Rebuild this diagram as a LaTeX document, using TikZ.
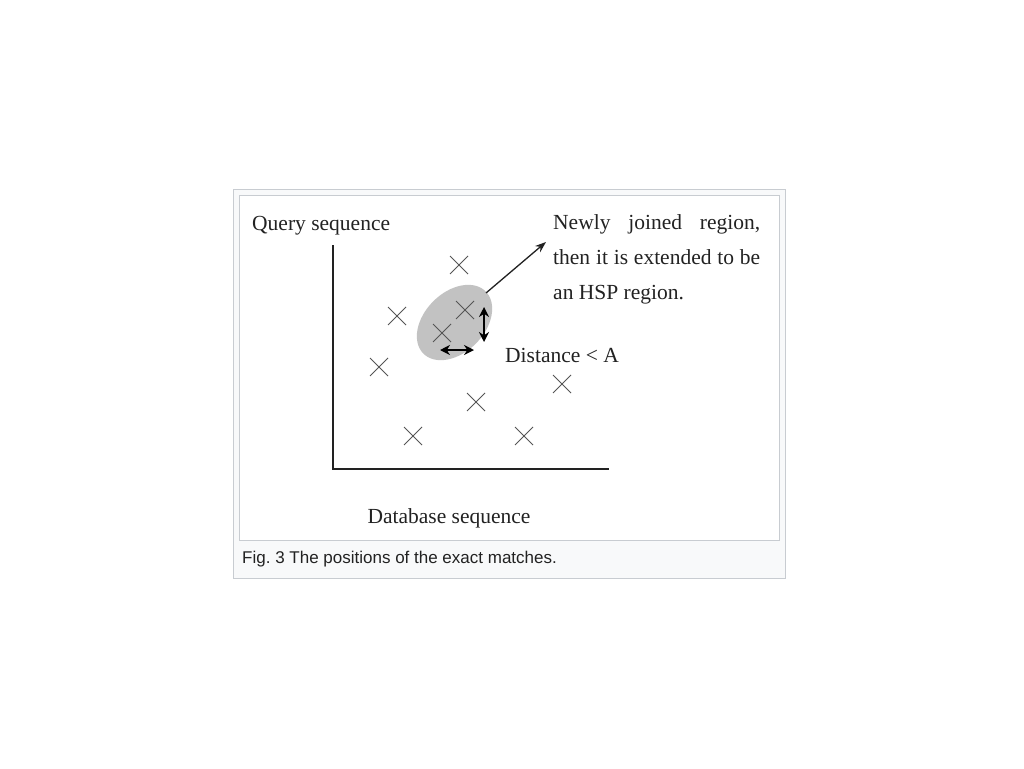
\documentclass[tikz,border=0pt]{standalone}
\usepackage{fontspec}
\setmainfont{Liberation Serif}
\newfontfamily\capfont{Liberation Sans}
\usetikzlibrary{shapes.geometric,shapes.misc,arrows.meta}
\definecolor{frameline}{HTML}{C8CCD1}
\definecolor{framebg}{HTML}{F8F9FA}
\definecolor{inkc}{HTML}{222222}
\definecolor{crossc}{HTML}{555555}
\definecolor{blobc}{HTML}{C2C2C2}
\tikzset{
  mark x/.style={cross out, draw=crossc, line width=1pt, minimum size=17pt, inner sep=0pt},
  lbl/.style={font=\fontsize{21.5}{35}\selectfont, text=inkc, inner sep=0pt},
  axis/.style={draw=inkc, line width=1.8pt},
  dimarrow/.style={draw=black, line width=2pt, {Stealth[length=10pt,width=10pt]}-{Stealth[length=10pt,width=10pt]}},
}
\begin{document}
\frenchspacing
\begin{tikzpicture}[x=1pt,y=-1pt]
\useasboundingbox[fill=white] (0,0) rectangle (1024,768);
% frame
\node[draw=frameline, fill=framebg, line width=1pt, minimum width=552pt, minimum height=389pt, inner sep=0pt] (outer) at (509,383.5) {};
\node[draw=frameline, fill=white, line width=1pt, minimum width=540pt, minimum height=345pt, inner sep=0pt] (inner) at (509,367.5) {};
\node[font=\capfont\fontsize{17}{20}\selectfont, text=inkc, anchor=west, inner sep=0pt] (cap) at (242,559) {Fig. 3 The positions of the exact matches.};
% axes
\coordinate (ytop) at (333,245);
\coordinate (origin) at (333,469);
\coordinate (xend) at (609,469);
\draw[axis] (ytop) -- (origin) -- (xend);
% labels
\node[lbl, anchor=west] (qs) at (252,226) {Query sequence};
\node[lbl] (ds) at (449,518) {Database sequence};
\node[lbl, anchor=west] (dist) at (505,355) {Distance < A};
\node[lbl, anchor=north west, text width=207pt, align=justify] (note) at (553,214) {Newly joined region, then it is extended to be an HSP region.};
% blob
\node[ellipse, fill=blobc, minimum width=88pt, minimum height=60pt, inner sep=0pt, rotate=45] (blob) at (454.5,322.5) {};
% crosses
\node[mark x] (c1) at (459,265) {};
\node[mark x] (c2) at (397,316) {};
\node[mark x] (c3) at (465,310) {};
\node[mark x] (c4) at (442,333) {};
\node[mark x] (c5) at (379,367) {};
\node[mark x] (c6) at (562,384) {};
\node[mark x] (c7) at (476,402) {};
\node[mark x] (c8) at (413,436) {};
\node[mark x] (c9) at (524,436) {};
% arrows
\coordinate (tip) at (546,242);
\coordinate (tail) at (486,293);
\draw[line width=1.3pt, inkc, -{Stealth[length=11pt,width=8pt]}] (tail) -- (tip);
\coordinate (vt) at (484,307);
\coordinate (vb) at (484,342);
\draw[dimarrow] (vt) -- (vb);
\coordinate (hl) at (440,350);
\coordinate (hr) at (474,350);
\draw[dimarrow] (hl) -- (hr);
\end{tikzpicture}
\end{document}
